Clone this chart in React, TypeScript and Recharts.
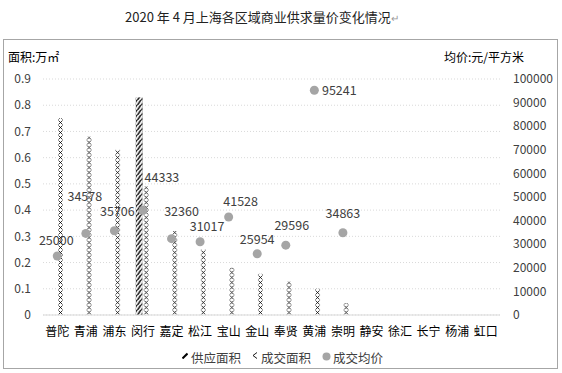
import React from 'react';
import { ComposedChart, Bar, Line, XAxis, YAxis, CartesianGrid } from 'recharts';

const categories = ['普陀', '青浦', '浦东', '闵行', '嘉定', '松江', '宝山', '金山', '奉贤', '黄浦', '崇明', '静安', '徐汇', '长宁', '杨浦', '虹口'];
const supplyArea: (number | null)[] = [null, null, null, 0.83, null, null, null, null, null, null, null, null, null, null, null, null];
const dealArea: (number | null)[] = [0.75, 0.68, 0.63, 0.49, 0.32, 0.25, 0.18, 0.157, 0.127, 0.1, 0.045, null, null, null, null, null];
const dealPrice: (number | null)[] = [25000, 34578, 35706, 44333, 32360, 31017, 41528, 25954, 29596, 95241, 34863, null, null, null, null, null];
const leftTicks = [0, 0.1, 0.2, 0.3, 0.4, 0.5, 0.6, 0.7, 0.8, 0.9];
const rightTicks = [0, 10000, 20000, 30000, 40000, 50000, 60000, 70000, 80000, 90000, 100000];

// label placement offsets (relative to each point), style only
const labelShift: [number, number][] = [
  [-1, -17], [-1, -38], [3, -20], [19, -34], [10, -28], [7, -16], [12, -16], [0, -15], [6, -21], [25, -1], [0, -20],
];

const data = categories.map((c, i) => ({
  cat: c,
  supply: supplyArea[i],
  deal: dealArea[i],
  price: dealPrice[i],
}));

const FONT = '"Noto Sans CJK SC", "Noto Sans", sans-serif';
const TXT = '#404040';

const HatchShape = (props: any) => {
  const { x, y, width, height, index } = props;
  if (!height || height <= 0) return <g />;
  const id = `hatch-${index}`;
  return (
    <g>
      <defs>
        <pattern id={id} patternUnits="userSpaceOnUse" x={x} y={y + height} width={width} height={5}>
          <rect x={0} y={0} width={width} height={5} fill="#fff" />
          <path d="M1.5,5.5 L5.5,-0.5 M-2.5,5.5 L1.5,-0.5 M5.5,5.5 L9.5,-0.5" stroke="#000" strokeWidth={1.4} />
        </pattern>
      </defs>
      <rect x={x} y={y} width={width} height={height} fill={`url(#${id})`} />
    </g>
  );
};

const CrossShape = (props: any) => {
  const { x, y, width, height, index } = props;
  if (!height || height <= 0) return <g />;
  const id = `cross-${index}`;
  return (
    <g>
      <defs>
        <pattern id={id} patternUnits="userSpaceOnUse" x={x} y={y + height} width={width} height={5}>
          <rect x={0} y={0} width={width} height={5} fill="#fff" />
          <path
            d={`M1.5,0.5 L${width - 1.5},4.5 M1.5,4.5 L${width - 1.5},0.5`}
            stroke="#000"
            strokeWidth={0.8}
          />
        </pattern>
      </defs>
      <rect x={x} y={y} width={width} height={height} fill={`url(#${id})`} />
    </g>
  );
};

const PriceDot = (props: any) => {
  const { cx, cy, index, value } = props;
  if (value == null || cy == null || isNaN(cy)) return <g key={`d${index}`} />;
  return <circle key={`d${index}`} cx={cx} cy={cy} r={4.5} fill="#a5a5a5" />;
};

const PriceLabel = (props: any) => {
  const { x, y, value, index } = props;
  if (value == null || y == null || isNaN(y)) return <g />;
  const s = labelShift[index] || [0, -18];
  return (
    <text x={x + s[0]} y={y + s[1]} textAnchor="middle" dominantBaseline="central" fontSize={12.5} fill={TXT} fontFamily={FONT}>
      {value}
    </text>
  );
};

export default function App() {
  return (
    <div style={{ position: 'absolute', left: 0, top: 0, width: 562, height: 373, background: '#fff', fontFamily: FONT }}>
      <div style={{ position: 'absolute', left: 125, top: 7, fontSize: 13, color: '#222', whiteSpace: 'nowrap' }}>
        2020 年 4 月上海各区域商业供求量价变化情况<span style={{ color: '#999', fontSize: 10 }}>↵</span>
      </div>
      <div style={{ position: 'absolute', left: 3, top: 39, width: 553, height: 328, border: '1px solid #a6a6a6' }} />
      <div style={{ position: 'absolute', left: 8, top: 48, fontSize: 12, color: '#000', whiteSpace: 'nowrap' }}>
        面积:万㎡
      </div>
      <div style={{ position: 'absolute', left: 444, top: 48, fontSize: 12, color: '#000', whiteSpace: 'nowrap' }}>
        均价:元/平方米
      </div>
      <div style={{ position: 'absolute', left: 0, top: 0 }}>
        <ComposedChart width={562} height={373} data={data} margin={{ top: 79, right: 5, bottom: 38, left: 3 }} barGap={0}>
          <CartesianGrid yAxisId="left" vertical={false} stroke="#d9d9d9" strokeDasharray="1 2" />
          <XAxis
            dataKey="cat"
            interval={0}
            tickLine={false}
            axisLine={{ stroke: '#d9d9d9' }}
            tickMargin={6}
            height={20}
            tick={{ fontSize: 12, fill: '#000', fontFamily: FONT }}
          />
          <YAxis
            yAxisId="left"
            domain={[0, 0.9]}
            ticks={leftTicks}
            axisLine={false}
            tickLine={false}
            width={40}
            tickMargin={6}
            tickFormatter={(v: number) => (v === 0 ? '0' : v.toFixed(1))}
            tick={{ fontSize: 12, fill: TXT, fontFamily: FONT }}
          />
          <YAxis
            yAxisId="right"
            orientation="right"
            domain={[0, 100000]}
            ticks={rightTicks}
            axisLine={false}
            tickLine={false}
            width={57}
            tickMargin={7}
            tick={{ fontSize: 12, fill: TXT, fontFamily: FONT }}
          />
          <Bar yAxisId="left" dataKey="supply" barSize={7} shape={HatchShape} isAnimationActive={false} />
          <Bar yAxisId="left" dataKey="deal" barSize={7} shape={CrossShape} isAnimationActive={false} />
          <Line
            yAxisId="right"
            dataKey="price"
            stroke="none"
            dot={PriceDot}
            activeDot={false}
            label={PriceLabel}
            isAnimationActive={false}
          />
        </ComposedChart>
      </div>
      <div style={{ position: 'absolute', left: 0, top: 348, width: 562, height: 18, fontSize: 12.5, color: TXT }}>
        <svg style={{ position: 'absolute', left: 182, top: 4 }} width={6} height={7}>
          <path d="M0.5,6.5 L5.5,1.5" stroke="#000" strokeWidth={2} />
        </svg>
        <span style={{ position: 'absolute', left: 191, top: 0, whiteSpace: 'nowrap' }}>供应面积</span>
        <svg style={{ position: 'absolute', left: 252, top: 4 }} width={6} height={7}>
          <path d="M5,0.5 L1,3.5 L5,6.5" stroke="#000" strokeWidth={0.9} fill="none" />
        </svg>
        <span style={{ position: 'absolute', left: 261, top: 0, whiteSpace: 'nowrap' }}>成交面积</span>
        <svg style={{ position: 'absolute', left: 322, top: 4 }} width={9} height={9}>
          <circle cx={4.5} cy={4.5} r={4} fill="#a5a5a5" />
        </svg>
        <span style={{ position: 'absolute', left: 333, top: 0, whiteSpace: 'nowrap' }}>成交均价</span>
      </div>
    </div>
  );
}
